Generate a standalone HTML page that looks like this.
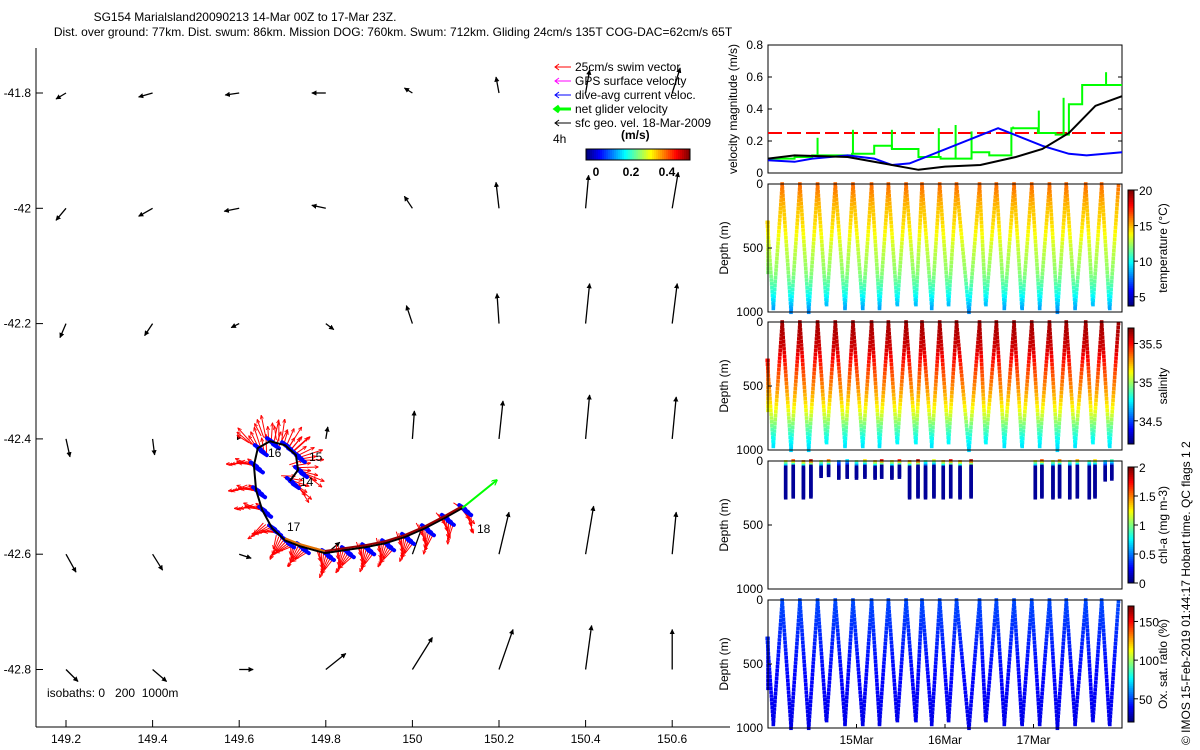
<!DOCTYPE html>
<html><head><meta charset="utf-8"><style>
html,body{margin:0;padding:0;background:#fff;}
svg{display:block;font-family:"Liberation Sans",sans-serif;}
text{fill:#000;font-size:12px;}
</style></head><body>
<svg id="fig" width="1200" height="750" viewBox="0 0 1200 750">
<g>
<text x="245" y="21" text-anchor="middle">SG154 Marialsland20090213 14-Mar 00Z to 17-Mar 23Z.</text>
<text x="393" y="36" text-anchor="middle">Dist. over ground: 77km. Dist. swum: 86km. Mission DOG: 760km. Swum: 712km. Gliding 24cm/s 135T COG-DAC=62cm/s 65T</text>
</g>
<g id="map"></g>
<g id="vel"></g>
<g id="sec"></g>
<text transform="translate(1190,745) rotate(-90)">© IMOS 15-Feb-2019 01:44:17 Hobart time. QC flags 1  2</text>
</svg>
<script>
const NS='http://www.w3.org/2000/svg';
function mk(tag,attrs,parent){const e=document.createElementNS(NS,tag);for(const k in attrs)e.setAttribute(k,attrs[k]);parent.appendChild(e);return e;}
function txt(s,x,y,parent,anchor){const t=mk('text',{x:x,y:y,'text-anchor':anchor||'start'},parent);t.textContent=s;return t;}
function jet(v){v=Math.max(0,Math.min(1,v));const r=Math.max(0,Math.min(1,1.5-Math.abs(4*v-3))),g=Math.max(0,Math.min(1,1.5-Math.abs(4*v-2))),b=Math.max(0,Math.min(1,1.5-Math.abs(4*v-1)));return 'rgb('+Math.round(r*255)+','+Math.round(g*255)+','+Math.round(b*255)+')';}

// ---------- MAP DATA ----------
const lonTicks=[149.2,149.4,149.6,149.8,150,150.2,150.4,150.6];
const latTicks=[-41.8,-42,-42.2,-42.4,-42.6,-42.8];
const geoU=[[-10,-14,-14,-14,-8,-3,4,8],[-10,-14,-15,-14,-8,-3,3,6],[-6,-8,-8,8,-6,-2,4,5],[4,2,-2,2,2,4,4,4],[10,10,12,14,10,10,8,4],[12,14,14,20,20,14,6,0]];
const geoV=[[6,4,2,0,-5,-16,-23,-25],[12,8,3,-3,-12,-26,-33,-36],[14,12,4,6,-18,-30,-40,-40],[18,16,-4,-12,-28,-38,-44,-42],[18,16,4,-12,-28,-42,-48,-42],[12,12,0,-16,-32,-40,-44,-40]];
const trackLon=[149.717,149.736,149.731,149.706,149.671,149.643,149.634,149.639,149.653,149.676,149.706,149.740,149.798,149.844,149.891,149.937,149.983,150.029,150.075,150.115];
const trackLat=[-42.473,-42.454,-42.428,-42.411,-42.404,-42.416,-42.446,-42.489,-42.523,-42.555,-42.576,-42.586,-42.598,-42.593,-42.588,-42.581,-42.570,-42.555,-42.537,-42.520];
const swimAng=[30,10,-30,-70,-90,-120,-170,-175,-170,160,130,120,100,110,100,105,100,90,80,60];
const dayLabels=['14','15','16','17','18'];

const mapG=document.getElementById('map');
const mx=v=>66+(v-149.2)/0.2*86.6;
const my=v=>93+(-41.8-v)/0.2*115.3;
mk('defs',{},mapG).innerHTML='<marker id="ah" viewBox="0 0 10 10" refX="9" refY="5" markerWidth="4" markerHeight="4" orient="auto"><path d="M0,0L10,5L0,10z" fill="#000"/></marker><marker id="ahr" viewBox="0 0 10 10" refX="9" refY="5" markerWidth="4" markerHeight="4" orient="auto"><path d="M0,1L10,5L0,9" fill="none" stroke="red" stroke-width="2"/></marker><marker id="ahg" viewBox="0 0 10 10" refX="9" refY="5" markerWidth="3" markerHeight="3" orient="auto"><path d="M0,0L10,5L0,10" fill="none" stroke="#0f0" stroke-width="2"/></marker>';
mk('line',{x1:36,y1:48,x2:36,y2:727,stroke:'#000'},mapG);
mk('line',{x1:36,y1:727,x2:730,y2:727,stroke:'#000'},mapG);
lonTicks.forEach(v=>{const x=mx(v);mk('line',{x1:x,y1:727,x2:x,y2:720,stroke:'#000'},mapG);const t=txt(String(v),x,743,mapG,'middle');});
latTicks.forEach(v=>{const y=my(v);mk('line',{x1:36,y1:y,x2:43,y2:y,stroke:'#000'},mapG);const t=txt(String(v),31,y+4,mapG,'end');});
latTicks.forEach((la,i)=>lonTicks.forEach((lo,j)=>{const x=mx(lo),y=my(la);const a=mk('line',{x1:x,y1:y,x2:x+geoU[i][j],y2:y+geoV[i][j],stroke:'#000','stroke-width':1.3,'marker-end':'url(#ah)'},mapG);

}));
trackLon.forEach((lo,i)=>{for(let k=0;k<8;k++){const x=mx(lo)+(k-3.5)*2.5,y=my(trackLat[i])+(k-3.5)*1.5;const an=(swimAng[i]+k*8-28)*Math.PI/180;const L=14+(k%3)*5;const r=mk('line',{x1:x,y1:y,x2:x+L*Math.cos(an),y2:y+L*Math.sin(an),stroke:'red','stroke-width':1,'marker-end':'url(#ahr)'},mapG);

}});
trackLon.forEach((lo,i)=>{for(let k=0;k<3;k++){const x=mx(lo)+(k-1)*3,y=my(trackLat[i])+(k-1)*3;const b=mk('line',{x1:x,y1:y,x2:x+6,y2:y+4,stroke:'blue','stroke-width':4,'stroke-linecap':'round'},mapG);

}});
let pts=trackLon.map((lo,i)=>mx(lo)+','+my(trackLat[i])).join(' ');
const tr=mk('polyline',{points:pts,fill:'none',stroke:'#000','stroke-width':2},mapG);


for(let i=10;i<trackLon.length-1;i++){const s=mk('line',{x1:mx(trackLon[i]),y1:my(trackLat[i])-2,x2:mx(trackLon[i+1]),y2:my(trackLat[i+1])-2,stroke:i<12?'#e07000':'#900','stroke-width':2},mapG);}
const n=trackLon.length-1;
const ga=mk('line',{x1:mx(trackLon[n]),y1:my(trackLat[n]),x2:497,y2:480,stroke:'#0f0','stroke-width':2,'marker-end':'url(#ahg)'},mapG);


const dayPos=[[300,486],[309,461],[268,457],[287,531],[477,533]];
dayLabels.forEach((s,k)=>{const t=txt(s,dayPos[k][0],dayPos[k][1],mapG);});
const iso=txt('isobaths: 0   200  1000m',47,697,mapG);iso.setAttribute('style','white-space:pre');
const legG=mk('g',{},mapG);
const legTxt=['25cm/s swim vector','GPS surface velocity','dive-avg current veloc.','net glider velocity','sfc geo. vel. 18-Mar-2009'];
const legCol=['red','#f0f','blue','#0f0','#000'];
legTxt.forEach((s,i)=>{const y=67+i*14;mk('line',{x1:571,y1:y,x2:555,y2:y,stroke:legCol[i],'stroke-width':i==3?3:1},legG);mk('path',{d:`M559,${y-3}L555,${y}L559,${y+3}`,fill:'none',stroke:legCol[i],'stroke-width':i==3?3:1},legG);const t=txt(s,575,y+4,legG);});
txt('4h',553,143,legG);
const ms=txt('(m/s)',621,139,legG);ms.setAttribute('font-weight','bold');
for(let i=0;i<52;i++)mk('rect',{x:586+i*2,y:149,width:2.2,height:11,fill:jet(i/51)},legG);
mk('rect',{x:586,y:149,width:104,height:11,fill:'none',stroke:'#000'},legG);
[['0',596],['0.2',631],['0.4',667]].forEach(a=>{const t=txt(a[0],a[1],176,legG,'middle');t.setAttribute('font-weight','bold');});

// ---------- VELOCITY PANEL ----------
const velTicks=[0,0.2,0.4,0.6,0.8];
const blueT=[0,0.3,0.5,0.9,1.2,1.4,1.6,2.6,3.1,3.4,3.6,4];
const blueV=[0.08,0.07,0.09,0.11,0.09,0.05,0.06,0.28,0.17,0.12,0.11,0.13];
const blackT=[0,0.3,0.9,1.3,1.7,2.0,2.4,2.8,3.1,3.4,3.7,4.0];
const blackV=[0.09,0.11,0.10,0.06,0.02,0.04,0.05,0.10,0.15,0.25,0.42,0.48];
const greenT=[0,0.3,0.5,0.95,1.2,1.4,1.7,1.95,2.3,2.5,2.75,3.05,3.25,3.4,3.55,3.75,4];
const greenV=[0.09,0.1,0.11,0.12,0.17,0.15,0.10,0.09,0.13,0.11,0.28,0.25,0.24,0.43,0.55,0.55,0.55];
const spikeT=[0.56,0.96,1.4,1.93,2.12,2.3,2.77,3.06,3.34,3.82];
const spikeV=[0.22,0.27,0.27,0.28,0.30,0.26,0.29,0.39,0.47,0.63];
const swimTarget=0.25;
const X0=768,X1=1122;
const tx=t=>X0+t/4*(X1-X0);
const velG=document.getElementById('vel');
const vy=v=>173-v*160;
mk('rect',{x:X0,y:45,width:X1-X0,height:128,fill:'none',stroke:'#000'},velG);
velTicks.forEach(v=>{mk('line',{x1:X0,y1:vy(v),x2:X0+4,y2:vy(v),stroke:'#000'},velG);mk('line',{x1:X1,y1:vy(v),x2:X1-4,y2:vy(v),stroke:'#000'},velG);txt(String(v),763,vy(v)+4,velG,'end');});
const yl=txt('velocity magnitude (m/s)',0,0,velG,'middle');yl.setAttribute('transform','translate(737,109) rotate(-90)');
const rl=mk('line',{x1:X0,y1:vy(swimTarget),x2:X1,y2:vy(swimTarget),stroke:'red','stroke-width':2,'stroke-dasharray':'14,5'},velG);

let gp='';greenT.forEach((t,i)=>{gp+=(i?'L':'M')+tx(t)+','+vy(greenV[i]);if(i<greenT.length-1)gp+='L'+tx(greenT[i+1])+','+vy(greenV[i]);});
const gl=mk('path',{d:gp,fill:'none',stroke:'#0f0','stroke-width':2},velG);

spikeT.forEach((t,i)=>{let j=0;while(j<greenT.length-1&&greenT[j+1]<=t)j++;const s=mk('line',{x1:tx(t),y1:vy(greenV[j]),x2:tx(t),y2:vy(spikeV[i]),stroke:'#0f0','stroke-width':2},velG);});
const bl=mk('polyline',{points:blueT.map((t,i)=>tx(t)+','+vy(blueV[i])).join(' '),fill:'none',stroke:'blue','stroke-width':2},velG);

const kl=mk('polyline',{points:blackT.map((t,i)=>tx(t)+','+vy(blackV[i])).join(' '),fill:'none',stroke:'#000','stroke-width':2},velG);


// ---------- SECTION PANELS ----------
const surfT=[0.16,0.36,0.56,0.76,0.96,1.17,1.36,1.56,1.74,1.94,2.13,2.39,2.58,2.78,2.98,3.18,3.37,3.59,3.77,3.96];
const bottomT=[0.06,0.26,0.46,0.66,0.87,1.07,1.26,1.46,1.67,1.85,2.04,2.27,2.46,2.67,2.87,3.07,3.27,3.47,3.67,3.86];
const bottomD=[960,990,990,950,960,970,960,950,950,960,940,1000,950,960,980,960,990,960,950,980];
const profDepth=[0,100,200,300,400,500,600,700,800,900,1000];
const tempProf=[16.3,15.5,14.8,14.5,13.8,13,12.5,12,11,9.5,8];
const salProf=[35.65,35.62,35.58,35.5,35.4,35.32,35.22,35.1,34.95,34.8,34.7];
const oxyProf=[50,48,46,44,42,40,39,38,37,36,35];
const chlDives=[1,2,3,4,5,6,7,8,9,10,11,15,16,17,18,19];
const chlMaxD=[290,290,120,130,130,130,130,290,290,290,290,290,290,290,290,140];
const chlSurf=[1.6,1.9,1.5,0.7,1.3,1.8,1.7,1.9,1.2,1.8,1.9,1.6,1.5,1.4,1.3,0.9];
const sections=[
 {top:184,prof:tempProf,lo:3.7,hi:20,ticks:[5,10,15,20],label:'temperature (°C)',name:'temperature-section'},
 {top:322,prof:salProf,lo:34.2,hi:35.7,ticks:[34.5,35,35.5],label:'salinity',name:'salinity-section'},
 {top:461,prof:null,lo:0,hi:2,ticks:[0,0.5,1,1.5,2],label:'chl-a (mg m-3)',name:'chlorophyll-section'},
 {top:600,prof:oxyProf,lo:20,hi:170,ticks:[50,100,150],label:'Ox. sat. ratio (%)',name:'oxygen-section'}];
const secG=document.getElementById('sec');
function interp(d,prof){let i=Math.min(9,Math.floor(d/100));const f=(d-profDepth[i])/100;return prof[i]+(prof[i+1]-prof[i])*f;}
sections.forEach((s,si)=>{
 const g=mk('g',{},secG);
 const H=128,dy=d=>s.top+d/1000*H;
 const cv=v=>jet((v-s.lo)/(s.hi-s.lo));
 function dot(t,d,v,w){const x=tx(t);if(x<X0-1||x>X1+1)return;mk('rect',{x:x-1.8,y:dy(d)-1.8,width:w||3.6,height:w||3.6,fill:cv(v)},g);}
 if(s.prof){
  for(let d=300;d<=700;d+=30)dot(0,d,interp(d,s.prof));
  for(let k=0;k<surfT.length;k++){
   const b=bottomT[k],st=surfT[k],D=bottomD[k];
   const prev=k>0?surfT[k-1]:-0.04;
   for(let d=0;d<=D;d+=30){const f=d/D;dot(prev+(b-prev)*f,d,interp(d,s.prof));dot(b+(st-b)*(1-f),d+12,interp(Math.min(1000,d+12),s.prof));}
  }
 } else {
  chlDives.forEach((k,ci)=>{const D=chlMaxD[ci];for(let d=0;d<=D;d+=14){const v=d<40?chlSurf[ci]*(1-d/60):0.05;dot(bottomT[k]+0.025,d,v);dot(surfT[k-1]+0.04,d+7,d<40?chlSurf[ci]*0.8*(1-d/60):0.05);}});
 }
 mk('rect',{x:X0,y:s.top,width:X1-X0,height:H,fill:'none',stroke:'#000'},g);
 [0,500,1000].forEach(d=>{mk('line',{x1:X0,y1:dy(d),x2:X0+4,y2:dy(d),stroke:'#000'},g);txt(String(d),763,dy(d)+4,g,'end');});
 const yt=txt('Depth (m)',0,0,g,'middle');yt.setAttribute('transform','translate(728,'+(s.top+64)+') rotate(-90)');
 const cbTop=s.top+6,cbH=116;
 for(let i=0;i<58;i++)mk('rect',{x:1128,y:cbTop+cbH-(i+1)*2,width:6,height:2.2,fill:jet(i/57)},g);
 mk('rect',{x:1128,y:cbTop,width:6,height:cbH,fill:'none',stroke:'#000'},g);
 s.ticks.forEach(v=>{const y=cbTop+cbH-(v-s.lo)/(s.hi-s.lo)*cbH;mk('line',{x1:1134,y1:y,x2:1138,y2:y,stroke:'#000'},g);txt(String(v),1139,y+5,g);});
 const cl=txt(s.label,0,0,g,'middle');cl.setAttribute('transform','translate(1167,'+(s.top+64)+') rotate(-90)');
});
[['15Mar',1],['16Mar',2],['17Mar',3]].forEach(a=>{mk('line',{x1:tx(a[1]),y1:728,x2:tx(a[1]),y2:724,stroke:'#000'},secG);const t=txt(a[0],tx(a[1]),744,secG,'middle');});
</script>
</body></html>
